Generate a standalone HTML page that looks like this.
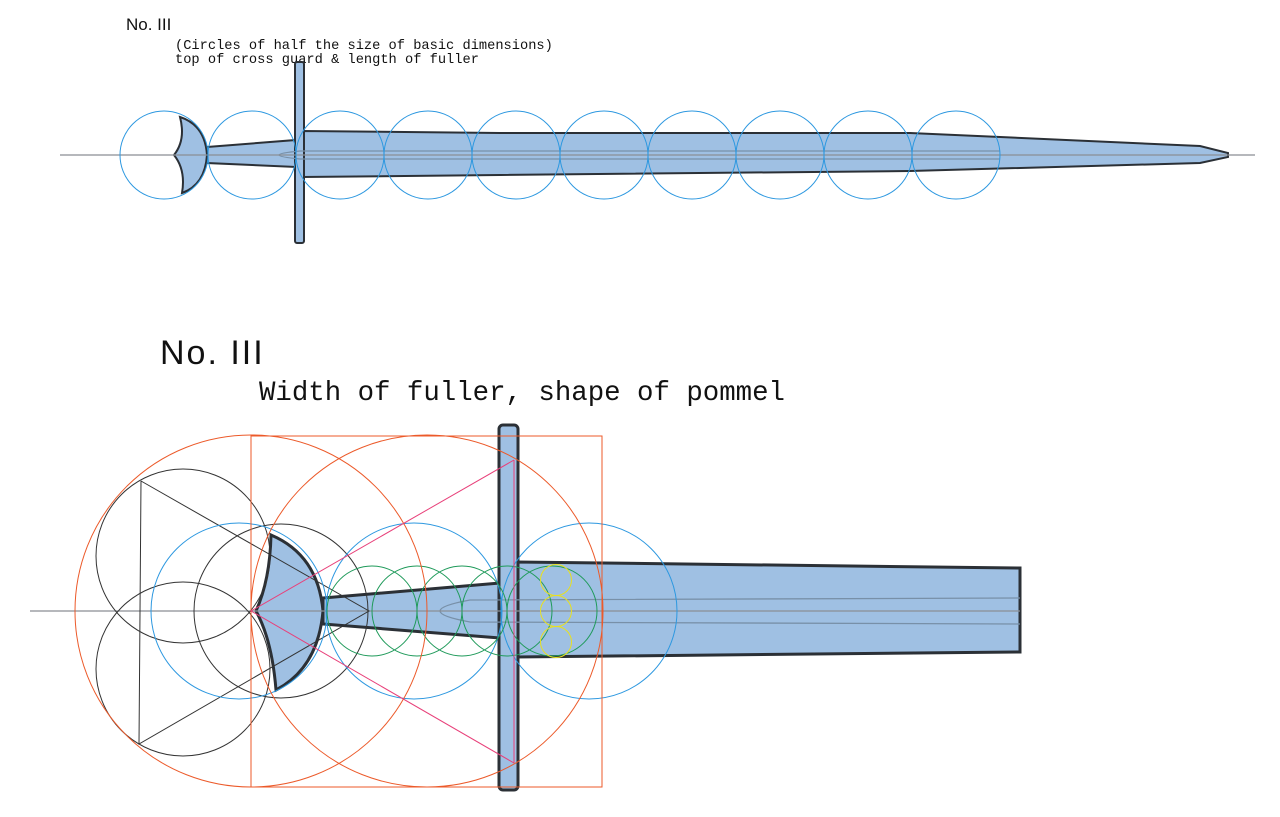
<!DOCTYPE html>
<html><head><meta charset="utf-8"><style>
html,body{margin:0;padding:0;background:#fff;}
svg{display:block;}
</style></head><body>
<svg width="1280" height="817" viewBox="0 0 1280 817" xmlns="http://www.w3.org/2000/svg">
<rect width="1280" height="817" fill="#fff"/>
<!-- TOP -->
<text x="126" y="30" font-family="Liberation Sans, sans-serif" font-size="17" fill="#111">No. III</text>
<text x="175" y="49" font-family="Liberation Mono, monospace" font-size="13.7" fill="#111">(Circles of half the size of basic dimensions)</text>
<text x="175" y="63" font-family="Liberation Mono, monospace" font-size="13.7" fill="#111">top of cross guard &amp; length of fuller</text>

<g stroke="#2b3036" stroke-width="2" fill="#9fc0e3">
  <path d="M180,117 Q205,125 207,155 Q205,185 182,193 Q186,170 174,155 Q186,140 180,117 Z"/>
  <path d="M207,147 L296,140 L296,167 L207,163 Z"/>
  <path d="M302,131 L500,133 L910,133 L1200,146 L1228,153 L1228,157 L1200,163 L910,171 L500,175 L302,177 Z"/>
  <rect x="295" y="62" width="9" height="181" rx="2"/>
</g>
<path d="M1000,151 L300,151 Q258,155 300,159 L1000,159" fill="none" stroke="#7890a8" stroke-width="1.2"/>
<line x1="60" y1="155" x2="1255" y2="155" stroke="#8a8e95" stroke-width="1.3"/>
<g fill="none" stroke="#2d98e0" stroke-width="1">
  <circle cx="164" cy="155" r="44"/><circle cx="252" cy="155" r="44"/><circle cx="340" cy="155" r="44"/>
  <circle cx="428" cy="155" r="44"/><circle cx="516" cy="155" r="44"/><circle cx="604" cy="155" r="44"/>
  <circle cx="692" cy="155" r="44"/><circle cx="780" cy="155" r="44"/><circle cx="868" cy="155" r="44"/>
  <circle cx="956" cy="155" r="44"/>
</g>

<!-- BOTTOM -->
<text x="160" y="364" font-family="Liberation Sans, sans-serif" font-size="34" letter-spacing="2" fill="#111">No. III</text>
<text x="259" y="400" font-family="Liberation Mono, monospace" font-size="27.4" fill="#111">Width of fuller, shape of pommel</text>

<g stroke="#2b3036" stroke-width="3" fill="#9fc0e3">
  <path d="M271,535 Q318,555 323,611 Q318,668 276,690 Q272,640 256,611 Q270,580 271,535 Z"/>
  <path d="M323,598 L500,583 L500,638 L323,624 Z"/>
  <path d="M516,562 L1020,568 L1020,652 L516,657 Z"/>
  <rect x="499" y="425" width="19" height="365" rx="4"/>
</g>
<path d="M1020,598 L470,600 Q410,611 470,622 L1020,624" fill="none" stroke="#7890a8" stroke-width="1.3"/>
<line x1="30" y1="611" x2="1020" y2="611" stroke="#8a8e95" stroke-width="1.3"/>

<g fill="none" stroke="#333" stroke-width="1">
  <circle cx="183" cy="556" r="87"/><circle cx="183" cy="669" r="87"/><circle cx="281" cy="611" r="87"/>
  <polyline points="141,481 139,744 369,611 141,481"/>
</g>
<g fill="none" stroke="#2d98e0" stroke-width="1">
  <circle cx="239" cy="611" r="88"/><circle cx="414" cy="611" r="88"/><circle cx="589" cy="611" r="88"/>
</g>
<g fill="none" stroke="#1f9a5a" stroke-width="1">
  <circle cx="372" cy="611" r="45"/><circle cx="417" cy="611" r="45"/><circle cx="462" cy="611" r="45"/>
  <circle cx="507" cy="611" r="45"/><circle cx="552" cy="611" r="45"/>
</g>
<g fill="none" stroke="#e8e020" stroke-width="1">
  <circle cx="556" cy="580" r="15.5"/><circle cx="556" cy="611" r="15.5"/><circle cx="556" cy="642" r="15.5"/>
</g>
<g fill="none" stroke="#ec5a2a" stroke-width="1">
  <circle cx="251" cy="611" r="176"/><circle cx="427" cy="611" r="176"/>
  <rect x="251" y="436" width="351" height="351"/>
</g>
<g fill="none" stroke="#e8407a" stroke-width="1">
  <polyline points="514,460 251,611 514,763"/>
  <line x1="514" y1="460" x2="514" y2="763"/>
</g>
</svg>
</body></html>
